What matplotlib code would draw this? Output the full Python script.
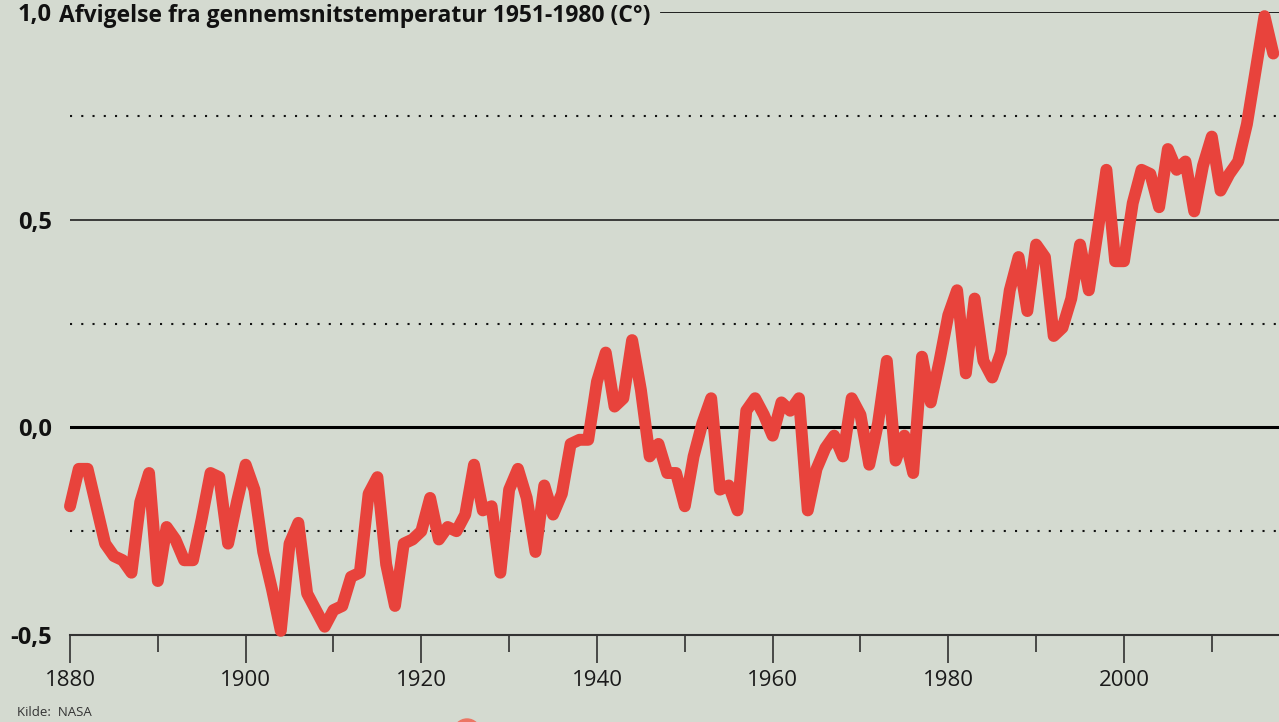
import matplotlib
matplotlib.use("Agg")
import matplotlib.pyplot as plt
from matplotlib.patches import Circle
from matplotlib.transforms import IdentityTransform

years = list(range(1880, 2018))
anomaly = [
    -0.19, -0.10, -0.10, -0.19, -0.28, -0.31, -0.32, -0.35, -0.18, -0.11,
    -0.37, -0.24, -0.27, -0.32, -0.32, -0.22, -0.11, -0.12, -0.28, -0.18,
    -0.09, -0.15, -0.30, -0.39, -0.49, -0.28, -0.23, -0.40, -0.44, -0.48,
    -0.44, -0.43, -0.36, -0.35, -0.16, -0.12, -0.33, -0.43, -0.28, -0.27,
    -0.25, -0.17, -0.27, -0.24, -0.25, -0.21, -0.09, -0.20, -0.19, -0.35,
    -0.15, -0.10, -0.17, -0.30, -0.14, -0.21, -0.16, -0.04, -0.03, -0.03,
    0.11, 0.18, 0.05, 0.07, 0.21, 0.09, -0.07, -0.04, -0.11, -0.11,
    -0.19, -0.07, 0.01, 0.07, -0.15, -0.14, -0.20, 0.04, 0.07, 0.03,
    -0.02, 0.06, 0.04, 0.07, -0.20, -0.10, -0.05, -0.02, -0.07, 0.07,
    0.03, -0.09, 0.01, 0.16, -0.08, -0.02, -0.11, 0.17, 0.06, 0.16,
    0.27, 0.33, 0.13, 0.31, 0.16, 0.12, 0.18, 0.33, 0.41, 0.28,
    0.44, 0.41, 0.22, 0.24, 0.31, 0.44, 0.33, 0.47, 0.62, 0.40,
    0.40, 0.54, 0.62, 0.61, 0.53, 0.67, 0.62, 0.64, 0.52, 0.63,
    0.70, 0.57, 0.61, 0.64, 0.73, 0.86, 0.99, 0.90,
]

y_ticks = [-0.5, 0.0, 0.5, 1.0]
y_labels = ["-0,5", "0,0", "0,5", "1,0"]
solid_levels = [0.5]
dotted_levels = [0.75, 0.25, -0.25]
x_major = [1880, 1900, 1920, 1940, 1960, 1980, 2000]
x_minor = [1890, 1910, 1930, 1950, 1970, 1990, 2010]

title = "Afvigelse fra gennemsnitstemperatur 1951-1980 (C°)"
source = "Kilde:  NASA"

BG = "#d4dad0"
RED = "#e8433c"
FONT = ["Open Sans", "DejaVu Sans"]

W, H = 1279, 722
fig = plt.figure(figsize=(W / 100, H / 100), dpi=100, facecolor=BG)
ax = fig.add_axes([70 / W, (H - 635) / H, (W - 70) / W, (635 - 12) / H])
ax.set_facecolor(BG)
ax.set_xlim(1880, 1880 + (W - 70) / 8.783)
ax.set_ylim(-0.5, 1.0)

for s in ["top", "right", "left"]:
    ax.spines[s].set_visible(False)
ax.spines["bottom"].set_color("#333333")
ax.spines["bottom"].set_linewidth(1.5)

# grid lines
for lv in solid_levels:
    ax.axhline(lv, color="#111111", lw=1.1, zorder=1)
ax.axhline(1.0, xmin=(661 - 70) / (W - 70), color="#111111", lw=1.3, zorder=1)
for lv in dotted_levels:
    ax.axhline(lv, color="#111111", lw=1.5, linestyle=(0, (1, 4.4)), zorder=1)
ax.axhline(0.0, color="#000000", lw=2.2, zorder=1)

ax.plot(years, anomaly, color=RED, lw=8.6, solid_joinstyle="round",
        solid_capstyle="round", zorder=3, clip_on=False)

# ticks
ax.set_xticks(x_major)
ax.set_xticklabels([str(v) for v in x_major], fontfamily=FONT, fontsize=16, color="#1a1a1a")
ax.set_xticks(x_minor, minor=True)
ax.tick_params(axis="x", which="major", length=20.5, width=1.1, color="#222222", pad=5, direction="out")
ax.tick_params(axis="x", which="minor", length=12, width=1.1, color="#222222", direction="out")

ax.set_yticks(y_ticks)
ax.set_yticklabels(y_labels, fontfamily=FONT, fontsize=17, fontweight="bold", color="#111111")
ax.tick_params(axis="y", length=0, pad=13)

fig.text(59 / W, (H - 16) / H, title, fontfamily=FONT, fontsize=16.5, fontweight="bold",
         color="#111111", ha="left", va="center")
fig.text(17 / W, (H - 712) / H, source, fontfamily=FONT, fontsize=9.5, color="#333333",
         ha="left", va="center")

c = Circle((467, H - 732.5), 13.5, transform=IdentityTransform(), color="#ec7563", zorder=5)
fig.patches.append(c)

fig.savefig("out.png", dpi=100, facecolor=BG)
